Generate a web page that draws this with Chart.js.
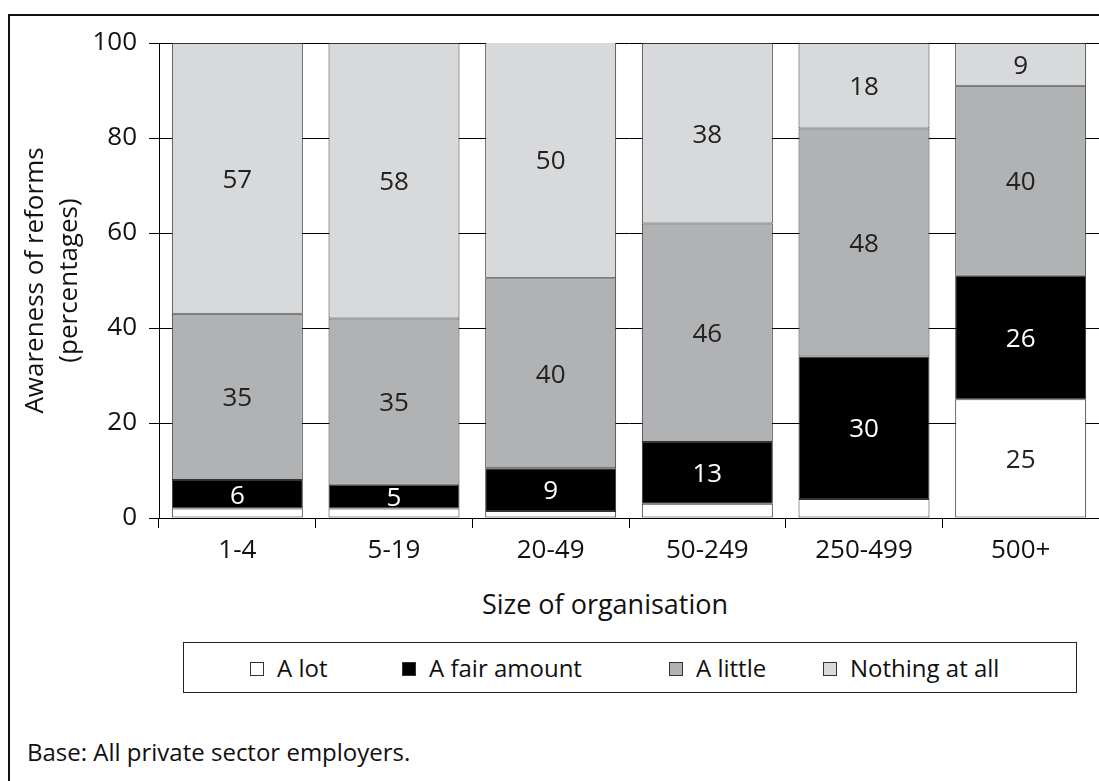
<!DOCTYPE html>
<html>
<head>
<meta charset="utf-8">
<script src="https://cdn.jsdelivr.net/npm/chart.js@4.4.1/dist/chart.umd.min.js"></script>
<style>
  html, body { margin: 0; padding: 0; background: #fff; }
  body { width: 1099px; height: 781px; position: relative; overflow: hidden; font-family: "Open Sans", sans-serif; color: #111; }
  .frame { position: absolute; left: 8px; top: 14px; width: 1200px; height: 900px; border-left: 2px solid #111; border-top: 2px solid #111; }
  #wrap { position: absolute; left: 0; top: 0; width: 1099px; height: 578px; }
  .xtitle { position: absolute; top: 585px; left: 0; width: 1210px; text-align: center; font-size: 27px; line-height: 38px; }
  .legend { position: absolute; left: 183px; top: 642px; width: 892px; height: 49px; border: 1px solid #222; }
  .legend .item { position: absolute; top: 0; height: 49px; line-height: 49px; font-size: 24px; white-space: nowrap; }
  .legend .sw { display: inline-block; width: 12px; height: 12px; border: 1px solid #333; margin-right: 13px; vertical-align: middle; position: relative; top: -2px; }
  .note { position: absolute; left: 27px; top: 735px; font-size: 24px; line-height: 33px; }
</style>
</head>
<body>
<div class="frame"></div>
<div id="wrap"><canvas id="chart"></canvas></div>
<div class="xtitle">Size of organisation</div>
<div class="legend" id="legend"></div>
<div class="note">Base: All private sector employers.</div>
<script>
// values (percentages)
const categories = ['1-4', '5-19', '20-49', '50-249', '250-499', '500+'];
const aLot = [2, 2, 1.5, 3, 4, 25];
const fairAmount = [6, 5, 9, 13, 30, 26];
const aLittle = [35, 35, 40, 46, 48, 40];
const nothingAtAll = [57, 58, 50, 38, 18, 9];
const yTicks = [0, 20, 40, 60, 80, 100];

const seriesNames = ['A lot', 'A fair amount', 'A little', 'Nothing at all'];
const seriesColors = ['#ffffff', '#000000', '#b1b2b4', '#d8d9db'];
const legendLeft = [249, 401, 668, 822];

// numbers in the middle of each segment
const segmentLabels = {
  id: 'segmentLabels',
  afterDatasetsDraw(chart) {
    const ctx = chart.ctx;
    ctx.save();
    ctx.font = '26px "Open Sans"';
    ctx.textAlign = 'center';
    ctx.textBaseline = 'middle';
    chart.data.datasets.forEach((ds, i) => {
      chart.getDatasetMeta(i).data.forEach((bar, j) => {
        const v = ds.data[j];
        if (v < 5) return;
        ctx.fillStyle = ds.backgroundColor === '#000000' ? '#fff' : '#222';
        ctx.fillText(String(v), bar.x, (bar.y + bar.base) / 2 + 2);
      });
    });
    ctx.restore();
  }
};

const datasets = [aLot, fairAmount, aLittle, nothingAtAll].map((d, i) => ({
  label: seriesNames[i],
  data: d,
  backgroundColor: seriesColors[i],
  borderColor: '#333',
  borderWidth: 1,
  borderSkipped: false,
  barPercentage: 0.836,
  categoryPercentage: 1
}));

new Chart(document.getElementById('chart'), {
  type: 'bar',
  data: { labels: categories, datasets: datasets },
  options: {
    responsive: true,
    maintainAspectRatio: false,
    animation: false,
    layout: { padding: { left: 0, right: 0, top: 43, bottom: 0 } },
    plugins: { legend: { display: false }, tooltip: { enabled: false } },
    scales: {
      x: {
        stacked: true,
        grid: { display: true, drawOnChartArea: false, drawTicks: true, tickLength: 10, color: '#000', offset: true },
        border: { color: '#000', width: 1 },
        ticks: { color: '#111', font: { family: 'Open Sans', size: 26 }, padding: 7 },
        afterFit: s => { s.height = 60; }
      },
      y: {
        stacked: true,
        min: 0,
        max: 100,
        afterBuildTicks: s => { s.ticks = yTicks.map(v => ({ value: v })); },
        grid: { color: '#000', lineWidth: 1, tickLength: 10 },
        border: { color: '#000', width: 1 },
        ticks: { color: '#111', font: { family: 'Open Sans', size: 26 }, padding: 12 },
        title: {
          display: true,
          text: ['Awareness of reforms', '(percentages)'],
          color: '#111',
          font: { family: 'Open Sans', size: 26, lineHeight: 1.3 },
          padding: { top: 19, bottom: 0 }
        },
        afterFit: s => { s.width = 159; }
      }
    }
  },
  plugins: [segmentLabels]
});

// legend box built from the series
const legend = document.getElementById('legend');
seriesNames.forEach((name, i) => {
  const item = document.createElement('div');
  item.className = 'item';
  item.style.left = (legendLeft[i] - 183) + 'px';
  item.innerHTML = '<span class="sw" style="background:' + seriesColors[i] + '"></span>' + name;
  legend.appendChild(item);
});
</script>
</body>
</html>
